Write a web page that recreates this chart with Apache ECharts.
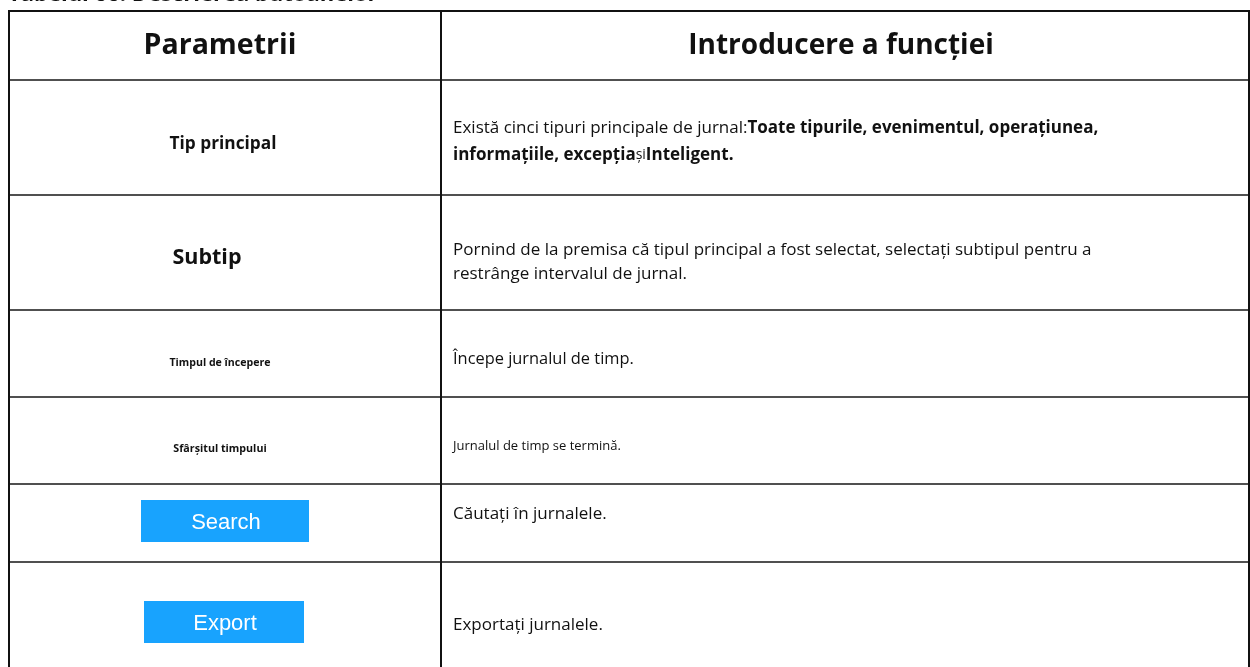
<!DOCTYPE html>
<html>
<head>
<meta charset="utf-8">
<script src="https://cdn.jsdelivr.net/npm/echarts@6/dist/echarts.min.js"></script>
<style>
html,body{margin:0;padding:0;background:#fff;}
#chart{width:1250px;height:667px;}
</style>
</head>
<body>
<div id="chart"></div>
<script>
// ---- content ----
const tableTitle = 'Tabelul 66: Descrierea butoanelor';
const headers = ['Parametrii', 'Introducere a funcției'];
const parameters = ['Tip principal', 'Subtip', 'Timpul de începere', 'Sfârșitul timpului', 'Search', 'Export'];
const parameterIsButton = [false, false, false, false, true, true];
const descriptions = [
  ['{n|Există cinci tipuri principale de jurnal:}{b|Toate tipurile, evenimentul, operațiunea,}',
   '{b|informațiile, excepția}{s|și}{b|Inteligent.}'],
  ['{n|Pornind de la premisa că tipul principal a fost selectat, selectați subtipul pentru a}',
   '{n|restrânge intervalul de jurnal.}'],
  ['{m|Începe jurnalul de timp.}'],
  ['{t|Jurnalul de timp se termină.}'],
  ['{n|Căutați în jurnalele.}'],
  ['{n|Exportați jurnalele.}']
];

// ---- layout / style ----
const FONT = '"Open Sans", "Noto Sans", sans-serif';
const X0 = 9, XM = 441, X1 = 1249;
const rowEdges = [11, 80, 195, 310, 397, 484, 562, 700];
const paramFont = [17.3, 21.5, 10.6, 10.7, 0, 0];
const paramX = [223, 207, 220, 220, 0, 0];
const paramY = [144, 258, 363, 449, 0, 0];
const descY = [[128, 155], [250, 274], [359], [446], [514], [625]];
const buttonBox = [null, null, null, null, [141, 500, 168, 42], [144, 601, 160, 42]];

const g = [];
// title (cut off at top)
g.push({type:'text', x: 8, y: 6, style:{text: tableTitle, font:'bold 22px ' + FONT, fill:'#111', verticalAlign:'bottom'}});
// headers
g.push({type:'text', x:220, y:46, style:{text:headers[0], font:'bold 28.5px '+FONT, fill:'#111', align:'center', verticalAlign:'middle'}});
g.push({type:'text', x:841, y:46, style:{text:headers[1], font:'bold 28px '+FONT, fill:'#111', align:'center', verticalAlign:'middle'}});

parameters.forEach((p, i) => {
  if (parameterIsButton[i]) {
    const b = buttonBox[i];
    g.push({type:'rect', shape:{x:b[0], y:b[1], width:b[2], height:b[3]}, style:{fill:'#18a3fe'}});
    g.push({type:'text', x:b[0]+b[2]/2 + 1, y:b[1]+b[3]/2+1.5, style:{text:p, font:'22px "Liberation Sans", Arial, sans-serif', fill:'#fff', align:'center', verticalAlign:'middle'}});
  } else {
    g.push({type:'text', x:paramX[i], y:paramY[i], style:{text:p, font:'bold '+paramFont[i]+'px '+FONT, fill:'#111', align:'center', verticalAlign:'middle'}});
  }
  descriptions[i].forEach((line, j) => {
    g.push({type:'text', x:453, y:descY[i][j], style:{
      text: line, verticalAlign:'middle', fill:'#111',
      rich:{
        n:{font:'17px '+FONT, fill:'#111'},
        b:{font:'bold 17px '+FONT, fill:'#111'},
        s:{font:'14px '+FONT, fill:'#111'},
        m:{font:'16.4px '+FONT, fill:'#111'},
        t:{font:'13px '+FONT, fill:'#111'}
      }
    }});
  });
});

// row separators
for (let k = 1; k < rowEdges.length - 1; k++) {
  g.push({type:'line', shape:{x1:X0, y1:rowEdges[k], x2:X1+1, y2:rowEdges[k]}, style:{stroke:'#505050', lineWidth:2}});
}
// outer border and divider
g.push({type:'line', shape:{x1:X0-1, y1:rowEdges[0], x2:X1+1, y2:rowEdges[0]}, style:{stroke:'#111', lineWidth:2}});
g.push({type:'line', shape:{x1:X0, y1:rowEdges[0], x2:X0, y2:667}, style:{stroke:'#111', lineWidth:2}});
g.push({type:'line', shape:{x1:XM, y1:rowEdges[0], x2:XM, y2:667}, style:{stroke:'#111', lineWidth:2}});
g.push({type:'line', shape:{x1:X1, y1:rowEdges[0], x2:X1, y2:667}, style:{stroke:'#111', lineWidth:2}});

const chart = echarts.init(document.getElementById('chart'), null, {renderer:'canvas'});
chart.setOption({backgroundColor:'#fff', animation:false, graphic:{elements:g}});
</script>
</body>
</html>
